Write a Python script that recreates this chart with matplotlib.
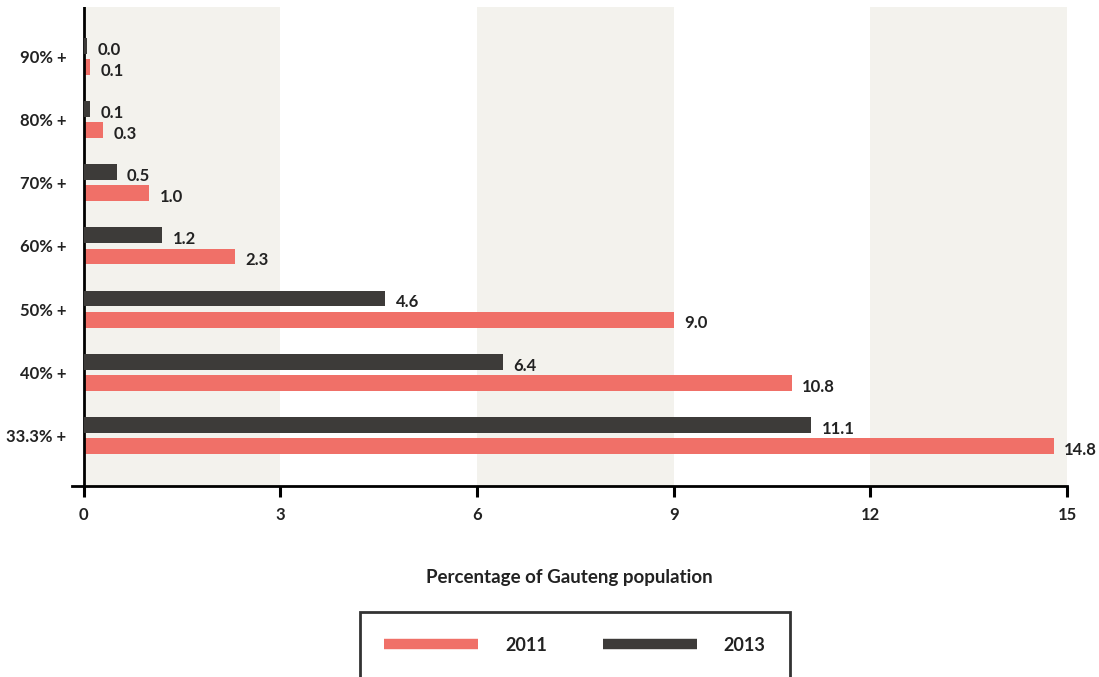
import matplotlib.pyplot as plt
import numpy as np
from matplotlib.lines import Line2D

plt.rcParams['font.family'] = ['Lato', 'DejaVu Sans']

categories = ['33.3% +', '40% +', '50% +', '60% +', '70% +', '80% +', '90% +']
vals_2011 = [14.8, 10.8, 9.0, 2.3, 1.0, 0.3, 0.1]
vals_2013 = [11.1, 6.4, 4.6, 1.2, 0.5, 0.1, 0.045]
xticks = [0, 3, 6, 9, 12, 15]

RED = '#F07068'
DARK = '#3D3B39'
SHADE = '#F3F2ED'
TXT = '#222222'


def main():
    fig = plt.figure(figsize=(10.99, 6.77), dpi=100)
    ax = fig.add_axes([0.0655, 0.2821, 0.9054, 0.7075])

    y = np.arange(len(categories))
    h = 0.25
    off = 0.167
    ax.set_xlim(-0.18, 15)
    ax.set_ylim(-0.8, 6.78)

    # alternating background bands
    for lo in (0, 6, 12):
        ax.axvspan(lo, lo + 3, color=SHADE, zorder=0, lw=0)

    ax.barh(y - off, vals_2011, h, color=RED, zorder=2)
    ax.barh(y + off, vals_2013, h, color=DARK, zorder=4)

    for yi, v in list(zip(y - off, vals_2011)) + list(zip(y + off, vals_2013)):
        ax.annotate(f'{v:.1f}', (v, yi - 0.06), xytext=(7.5, 0), textcoords='offset points',
                    va='center', ha='left', fontsize=12, fontweight='bold', color=TXT)

    ax.axvline(0, color='black', lw=2, zorder=3)
    for s in ('top', 'right', 'left'):
        ax.spines[s].set_visible(False)
    ax.spines['bottom'].set_linewidth(2)

    ax.set_yticks(y)
    ax.set_yticklabels(categories, fontsize=12, fontweight='bold', color=TXT)
    ax.tick_params(axis='y', length=0, pad=4)
    ax.set_xticks(xticks)
    ax.set_xticklabels([str(t) for t in xticks], fontsize=12, fontweight='bold', color=TXT)
    ax.tick_params(axis='x', length=8, width=2.2, pad=7)
    ax.set_xlabel('Percentage of Gauteng population', fontsize=13.5, fontweight='bold',
                  color=TXT, labelpad=33)

    handles = [Line2D([], [], color=RED, lw=7.5, solid_capstyle='butt'),
               Line2D([], [], color=DARK, lw=7.5, solid_capstyle='butt')]
    leg = fig.legend(handles, ['2011', '2013'], loc='center', bbox_to_anchor=(0.523, 0.047),
                     ncol=2, frameon=True, fancybox=False, fontsize=13,
                     handlelength=5.2, handletextpad=1.5, columnspacing=3.1,
                     borderpad=1.35, borderaxespad=0)
    leg.get_frame().set_edgecolor('black')
    leg.get_frame().set_linewidth(2)
    for t in leg.get_texts():
        t.set_fontweight('bold')
        t.set_color(TXT)

    fig.savefig('out.png', dpi=100)


if __name__ == '__main__':
    main()
